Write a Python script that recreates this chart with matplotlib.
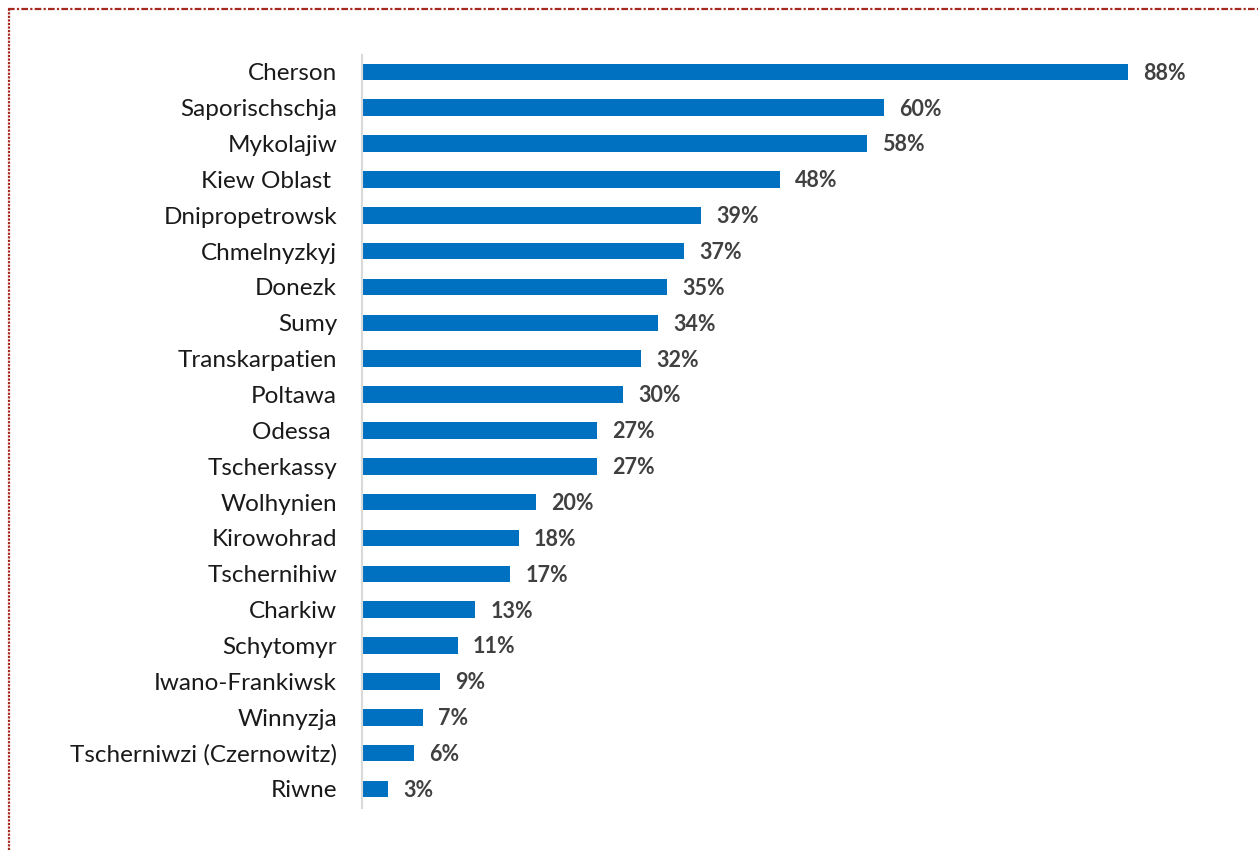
import matplotlib.pyplot as plt
from matplotlib.lines import Line2D

plt.rcParams['font.family'] = ['Lato', 'DejaVu Sans']

# Oblasts, top to bottom, with share in percent
regions = [
    "Cherson", "Saporischschja", "Mykolajiw", "Kiew Oblast ", "Dnipropetrowsk",
    "Chmelnyzkyj", "Donezk", "Sumy", "Transkarpatien", "Poltawa", "Odessa ",
    "Tscherkassy", "Wolhynien", "Kirowohrad", "Tschernihiw", "Charkiw",
    "Schytomyr", "Iwano-Frankiwsk", "Winnyzja", "Tscherniwzi (Czernowitz)", "Riwne",
]
shares = [88, 60, 58, 48, 39, 37, 35, 34, 32, 30, 27, 27, 20, 18, 17, 13, 11, 9, 7, 6, 3]

bar_color = "#0070C0"
label_color = "#404040"
frame_color = "#A52A1E"

fig = plt.figure(figsize=(12.58, 8.5), dpi=100)
ax = fig.add_axes([362 / 1258, 1 - 808 / 850, 870.5 / 1258, (808 - 55) / 850])

ypos = list(range(len(regions)))[::-1]
ax.barh(ypos, shares, height=0.46, color=bar_color)

for y, v in zip(ypos, shares):
    ax.annotate(f"{v}%", xy=(v, y), xytext=(11, -1), textcoords="offset points",
                ha="left", va="center", fontsize=15.5, fontweight="bold",
                color=label_color)

ax.set_xlim(0, 100)
ax.set_ylim(-0.53, len(regions) - 0.53)
ax.set_yticks(ypos)
ax.set_yticklabels(regions, fontsize=17.5, color="#1a1a1a")
ax.tick_params(axis="y", length=0, pad=18)
ax.set_xticks([])

for side in ("top", "right", "bottom"):
    ax.spines[side].set_visible(False)
ax.spines["left"].set_color("#D9D9D9")
ax.spines["left"].set_linewidth(1.5)

# dashed frame along the top and left edge
fig.add_artist(Line2D([8 / 1258, 1], [1 - 9 / 850, 1 - 9 / 850], transform=fig.transFigure,
                      color=frame_color, linewidth=1.6, linestyle=(0, (3, 1, 1, 1))))
fig.add_artist(Line2D([9 / 1258, 9 / 1258], [0, 1 - 9 / 850], transform=fig.transFigure,
                      color=frame_color, linewidth=1.6, linestyle=(0, (1, 0.6))))

fig.savefig("out.png", dpi=100)
